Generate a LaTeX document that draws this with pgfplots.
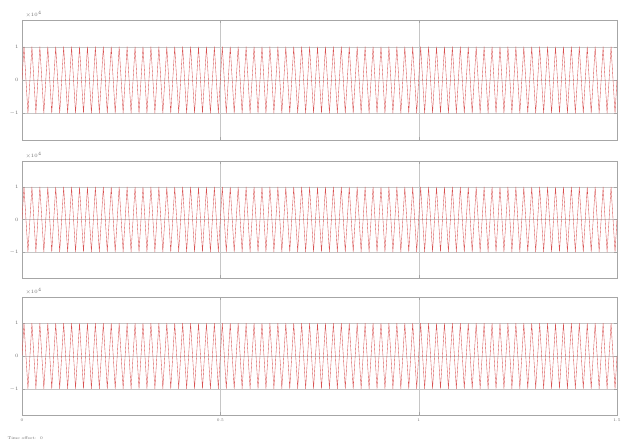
\documentclass[border=0pt]{standalone}
\usepackage{pgfplots}
\pgfplotsset{compat=1.18}
\usepackage{pgfplotstable}
\pgfplotstableread[row sep=\\]{x y\\
0.000 0\\0.005 1\\0.010 0\\0.015 -1\\0.020 0\\0.025 1\\0.030 0\\0.035 -1\\0.040 0\\0.045 1\\0.050 0\\0.055 -1\\0.060 0\\0.065 1\\0.070 0\\0.075 -1\\0.080 0\\0.085 1\\0.090 0\\0.095 -1\\
0.100 0\\0.105 1\\0.110 0\\0.115 -1\\0.120 0\\0.125 1\\0.130 0\\0.135 -1\\0.140 0\\0.145 1\\0.150 0\\0.155 -1\\0.160 0\\0.165 1\\0.170 0\\0.175 -1\\0.180 0\\0.185 1\\0.190 0\\0.195 -1\\
0.200 0\\0.205 1\\0.210 0\\0.215 -1\\0.220 0\\0.225 1\\0.230 0\\0.235 -1\\0.240 0\\0.245 1\\0.250 0\\0.255 -1\\0.260 0\\0.265 1\\0.270 0\\0.275 -1\\0.280 0\\0.285 1\\0.290 0\\0.295 -1\\
0.300 0\\0.305 1\\0.310 0\\0.315 -1\\0.320 0\\0.325 1\\0.330 0\\0.335 -1\\0.340 0\\0.345 1\\0.350 0\\0.355 -1\\0.360 0\\0.365 1\\0.370 0\\0.375 -1\\0.380 0\\0.385 1\\0.390 0\\0.395 -1\\
0.400 0\\0.405 1\\0.410 0\\0.415 -1\\0.420 0\\0.425 1\\0.430 0\\0.435 -1\\0.440 0\\0.445 1\\0.450 0\\0.455 -1\\0.460 0\\0.465 1\\0.470 0\\0.475 -1\\0.480 0\\0.485 1\\0.490 0\\0.495 -1\\
0.500 0\\0.505 1\\0.510 0\\0.515 -1\\0.520 0\\0.525 1\\0.530 0\\0.535 -1\\0.540 0\\0.545 1\\0.550 0\\0.555 -1\\0.560 0\\0.565 1\\0.570 0\\0.575 -1\\0.580 0\\0.585 1\\0.590 0\\0.595 -1\\
0.600 0\\0.605 1\\0.610 0\\0.615 -1\\0.620 0\\0.625 1\\0.630 0\\0.635 -1\\0.640 0\\0.645 1\\0.650 0\\0.655 -1\\0.660 0\\0.665 1\\0.670 0\\0.675 -1\\0.680 0\\0.685 1\\0.690 0\\0.695 -1\\
0.700 0\\0.705 1\\0.710 0\\0.715 -1\\0.720 0\\0.725 1\\0.730 0\\0.735 -1\\0.740 0\\0.745 1\\0.750 0\\0.755 -1\\0.760 0\\0.765 1\\0.770 0\\0.775 -1\\0.780 0\\0.785 1\\0.790 0\\0.795 -1\\
0.800 0\\0.805 1\\0.810 0\\0.815 -1\\0.820 0\\0.825 1\\0.830 0\\0.835 -1\\0.840 0\\0.845 1\\0.850 0\\0.855 -1\\0.860 0\\0.865 1\\0.870 0\\0.875 -1\\0.880 0\\0.885 1\\0.890 0\\0.895 -1\\
0.900 0\\0.905 1\\0.910 0\\0.915 -1\\0.920 0\\0.925 1\\0.930 0\\0.935 -1\\0.940 0\\0.945 1\\0.950 0\\0.955 -1\\0.960 0\\0.965 1\\0.970 0\\0.975 -1\\0.980 0\\0.985 1\\0.990 0\\0.995 -1\\
1.000 0\\1.005 1\\1.010 0\\1.015 -1\\1.020 0\\1.025 1\\1.030 0\\1.035 -1\\1.040 0\\1.045 1\\1.050 0\\1.055 -1\\1.060 0\\1.065 1\\1.070 0\\1.075 -1\\1.080 0\\1.085 1\\1.090 0\\1.095 -1\\
1.100 0\\1.105 1\\1.110 0\\1.115 -1\\1.120 0\\1.125 1\\1.130 0\\1.135 -1\\1.140 0\\1.145 1\\1.150 0\\1.155 -1\\1.160 0\\1.165 1\\1.170 0\\1.175 -1\\1.180 0\\1.185 1\\1.190 0\\1.195 -1\\
1.200 0\\1.205 1\\1.210 0\\1.215 -1\\1.220 0\\1.225 1\\1.230 0\\1.235 -1\\1.240 0\\1.245 1\\1.250 0\\1.255 -1\\1.260 0\\1.265 1\\1.270 0\\1.275 -1\\1.280 0\\1.285 1\\1.290 0\\1.295 -1\\
1.300 0\\1.305 1\\1.310 0\\1.315 -1\\1.320 0\\1.325 1\\1.330 0\\1.335 -1\\1.340 0\\1.345 1\\1.350 0\\1.355 -1\\1.360 0\\1.365 1\\1.370 0\\1.375 -1\\1.380 0\\1.385 1\\1.390 0\\1.395 -1\\
1.400 0\\1.405 1\\1.410 0\\1.415 -1\\1.420 0\\1.425 1\\1.430 0\\1.435 -1\\1.440 0\\1.445 1\\1.450 0\\1.455 -1\\1.460 0\\1.465 1\\1.470 0\\1.475 -1\\1.480 0\\1.485 1\\1.490 0\\1.495 -1\\
1.500 0\\
}\wave
\definecolor{wavecol}{RGB}{215,80,80}
\pgfplotsset{scopeax/.style={
  scale only axis, width=595pt,
  xmin=0, xmax=1.5, ymin=-1.8, ymax=1.8,
  xtick={0,0.5,1,1.5}, ytick={-1,0,1},
  yticklabels={$-1$,$0$,$1$},
  grid=major, grid style={gray!45, line width=0.3pt},
  axis line style={gray!70, line width=0.6pt},
  tick style={gray!70},
  major tick length=3pt,
  tick label style={font=\fontsize{4}{5}\selectfont, text=gray!85!black},
}}
\begin{document}
\begin{tikzpicture}
\useasboundingbox (0pt,0pt) rectangle (624pt,-443pt);
\begin{axis}[scopeax, height=120pt, at={(22pt,-140pt)}, anchor=south west, xticklabels={}]
\addplot[wavecol, line width=0.35pt, no marks] table[x=x,y=y]{\wave};
\end{axis}
\node[anchor=base west, font=\fontsize{4}{5}\selectfont, text=gray!85!black] at (22pt,-17pt) {$\times10^{4}$};
\begin{axis}[scopeax, height=117pt, at={(22pt,-278pt)}, anchor=south west, xticklabels={}]
\addplot[wavecol, line width=0.35pt, no marks] table[x=x,y=y]{\wave};
\end{axis}
\node[anchor=base west, font=\fontsize{4}{5}\selectfont, text=gray!85!black] at (22pt,-158pt) {$\times10^{4}$};
\begin{axis}[scopeax, height=118pt, at={(22pt,-415pt)}, anchor=south west, xticklabels={0,0.5,1,1.5}]
\addplot[wavecol, line width=0.35pt, no marks] table[x=x,y=y]{\wave};
\end{axis}
\node[anchor=base west, font=\fontsize{4}{5}\selectfont, text=gray!85!black] at (22pt,-294pt) {$\times10^{4}$};
\node[anchor=base west, font=\fontsize{4}{5}\selectfont, text=gray!85!black] at (4pt,-439pt) {Time offset:\ \ 0};
\end{tikzpicture}
\end{document}
